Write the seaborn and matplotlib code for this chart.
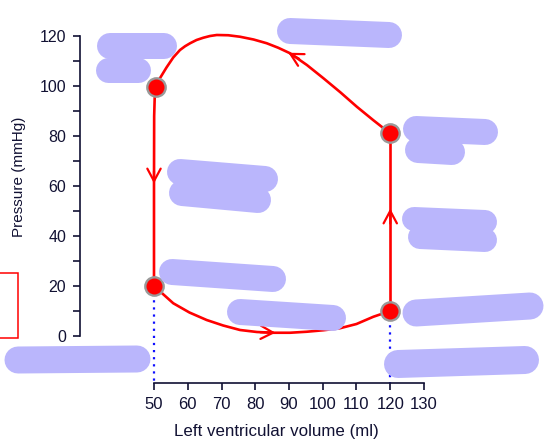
import matplotlib
matplotlib.use("Agg")
import matplotlib.pyplot as plt
import seaborn as sns
import pandas as pd
from matplotlib.patches import FancyArrowPatch, Rectangle
from matplotlib.lines import Line2D

sns.set_style("ticks")
plt.rcParams['font.family'] = ['Liberation Sans', 'DejaVu Sans']

# ---- data ----
# filling (bottom curve), A -> B
fill_vol = [50, 55.7, 60.5, 65.6, 70.5, 75.5, 80.5, 85.3, 90.3, 95.2, 100.2, 105.1, 110.0, 115.0, 120]
fill_p = [20, 13.1, 9.4, 6.4, 4.2, 2.4, 1.6, 1.3, 1.3, 1.7, 2.3, 3.1, 4.8, 7.7, 10]
# isovolumetric contraction, B -> C
contr_vol = [120, 120]
contr_p = [10, 81]
# ejection (top curve), C -> D
eject_vol = [120, 115.0, 110.1, 105.2, 100.2, 95.3, 90.3, 86.8, 83.4, 79.5, 75.5, 72.0, 68.6,
             66.6, 64.6, 62.6, 60.7, 59.2, 57.7, 55.7, 53.7, 51.8, 51.0, 50.5]
eject_p = [81, 86.3, 91.7, 97.5, 103.1, 108.4, 113.1, 115.3, 117.1, 118.6, 119.7, 120.3, 120.4,
           120.0, 119.3, 118.4, 117.1, 115.9, 114.4, 111.4, 107.4, 103.2, 101.3, 99.5]
# isovolumetric relaxation, D -> A
relax_vol = [50.5, 50.2, 50.05, 50, 50]
relax_p = [99.5, 95, 88, 60, 20]
# corner points
pt_vol = [50, 120, 120, 50.5]
pt_p = [20, 10, 81, 99.5]
# dotted drop lines
drop_vol = [50, 120]
drop_p = [20, 10]

xticks = [50, 60, 70, 80, 90, 100, 110, 120, 130]
yticks = [0, 20, 40, 60, 80, 100, 120]
yminor = [10, 30, 50, 70, 90, 110]

W, H = 548, 440
fig = plt.figure(figsize=(W / 100, H / 100), dpi=100)
ax = fig.add_axes([80 / W, 1 - 383 / H, (424 - 80) / W, (383 - 36) / H])

XMIN = 50 - (154 - 80) / 3.375
YMIN = -(383 - 336) / 2.5
ax.set_xlim(XMIN, 130)
ax.set_ylim(YMIN, 120)

red = '#ff0000'
for v, p in [(fill_vol, fill_p), (contr_vol, contr_p), (eject_vol, eject_p), (relax_vol, relax_p)]:
    df = pd.DataFrame({'vol': v, 'p': p})
    sns.lineplot(data=df, x='vol', y='p', sort=False, estimator=None, errorbar=None,
                 color=red, lw=1.9, ax=ax, clip_on=False, zorder=3)

for v, p in zip(drop_vol, drop_p):
    ax.plot([v, v], [p, YMIN], color='#1010ff', ls=(0, (1, 2.2)), lw=1.6, zorder=2, clip_on=False)

sns.scatterplot(x=pt_vol, y=pt_p, s=175, color=red, edgecolor='#999999', linewidth=1.7,
                ax=ax, zorder=5, clip_on=False)

# direction chevrons (tail -> tip)
arrows = [((50.0, 66), (50.0, 61)),
          ((120, 45), (120, 51)),
          ((81.5, 1.5), (86.0, 1.3)),
          ((93.0, 110.9), (89.8, 113.3))]
for tail, tip in arrows:
    ax.add_patch(FancyArrowPatch(tail, tip, arrowstyle='->,head_length=0.6,head_width=0.32',
                                 mutation_scale=15, color=red, lw=1.6, shrinkA=0, shrinkB=0,
                                 zorder=4, clip_on=False))

ink = '#111133'
sns.despine(ax=ax)
ax.spines['left'].set_bounds(0, 120)
ax.spines['bottom'].set_bounds(50, 130)
for s in ('left', 'bottom'):
    ax.spines[s].set_color(ink)
    ax.spines[s].set_linewidth(1.2)
ax.set_xticks(xticks)
ax.set_yticks(yticks)
ax.set_yticks(yminor, minor=True)
ax.tick_params(axis='both', which='both', direction='out', length=5, width=1.2, color=ink,
               labelcolor=ink, pad=5)
ax.tick_params(axis='x', labelsize=12)
ax.tick_params(axis='y', labelsize=11.5)
ax.set_xlabel('Left ventricular volume (ml)', fontsize=12.2, color=ink)
ax.set_ylabel('Pressure (mmHg)', fontsize=11, color=ink)
ax.xaxis.set_label_coords((276 - 80) / (424 - 80), -(424 - 383) / (383 - 36))
ax.yaxis.set_label_coords(-(80 - 26) / (424 - 80), (383 - 177) / (383 - 36))

# partially visible red frame at the left edge
fig.patches.append(Rectangle((-20 / W, 1 - 338 / H), 38 / W, 65 / H, transform=fig.transFigure,
                             fill=False, edgecolor='#ff0000', lw=1.1))

# redaction strokes covering the annotation texts (pixel positions)
blob_color = '#bab6fc'
blobs = [
    ([110, 164], [46, 46], 26),
    ([108, 138], [70, 70], 25),
    ([290, 389], [31, 35], 26),
    ([416, 485], [129, 132], 26),
    ([418, 452], [150, 152], 26),
    ([414, 485], [219, 222], 24),
    ([420, 485], [237, 240], 24),
    ([416, 530], [313, 306], 27),
    ([180, 265], [172, 179], 26),
    ([182, 258], [193, 200], 26),
    ([172, 273], [272, 279], 26),
    ([240, 333], [312, 318], 26),
    ([18, 137], [360, 359], 27),
    ([398, 525], [364, 360], 28),
]
for xs, ys, w in blobs:
    fig.lines.append(Line2D([x / W for x in xs], [1 - y / H for y in ys], transform=fig.transFigure,
                            color=blob_color, lw=w * 0.72, solid_capstyle='round', zorder=10))

fig.savefig('out.png', dpi=100)
